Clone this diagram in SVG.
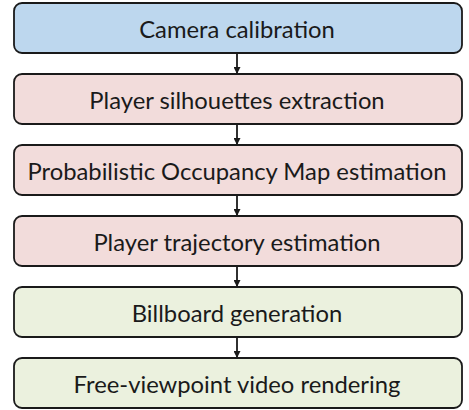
<svg xmlns="http://www.w3.org/2000/svg" width="469" height="410" viewBox="0 0 469 410">
<style>
.box{stroke:#1a1a1a;stroke-width:1.8}
.blue{fill:#bdd7ee}.pink{fill:#f2dcdb}.green{fill:#ebf1de}
text{font-family:Lato,"Open Sans","Liberation Sans",sans-serif;font-size:23.8px;fill:#1a1a1a;text-anchor:middle;dominant-baseline:central}
.conn{stroke:#1a1a1a;stroke-width:1.8;fill:none;marker-end:url(#ah)}
</style>
<defs>
<marker id="ah" viewBox="0 0 10 10" refX="10" refY="5" markerWidth="7" markerHeight="7" markerUnits="userSpaceOnUse" orient="auto">
<path d="M0,0L10,5L0,10z" fill="#1a1a1a"/>
</marker>
</defs>
<g id="connectors">
<line class="conn" x1="237" y1="53" x2="237" y2="74"/>
<line class="conn" x1="237" y1="124" x2="237" y2="145"/>
<line class="conn" x1="237" y1="195" x2="237" y2="216"/>
<line class="conn" x1="237" y1="266" x2="237" y2="287"/>
<line class="conn" x1="237" y1="337" x2="237" y2="358"/>
</g>
<g id="n1"><rect class="box blue" x="14" y="3" width="448" height="50" rx="8"/><text x="237" y="29">Camera calibration</text></g>
<g id="n2"><rect class="box pink" x="14" y="74" width="448" height="50" rx="8"/><text x="237" y="100">Player silhouettes extraction</text></g>
<g id="n3"><rect class="box pink" x="14" y="145" width="448" height="50" rx="8"/><text x="237" y="171">Probabilistic Occupancy Map estimation</text></g>
<g id="n4"><rect class="box pink" x="14" y="216" width="448" height="50" rx="8"/><text x="237" y="242">Player trajectory estimation</text></g>
<g id="n5"><rect class="box green" x="14" y="287" width="448" height="50" rx="8"/><text x="237" y="313">Billboard generation</text></g>
<g id="n6"><rect class="box green" x="14" y="358" width="448" height="50" rx="8"/><text x="237" y="384">Free-viewpoint video rendering</text></g>
</svg>
